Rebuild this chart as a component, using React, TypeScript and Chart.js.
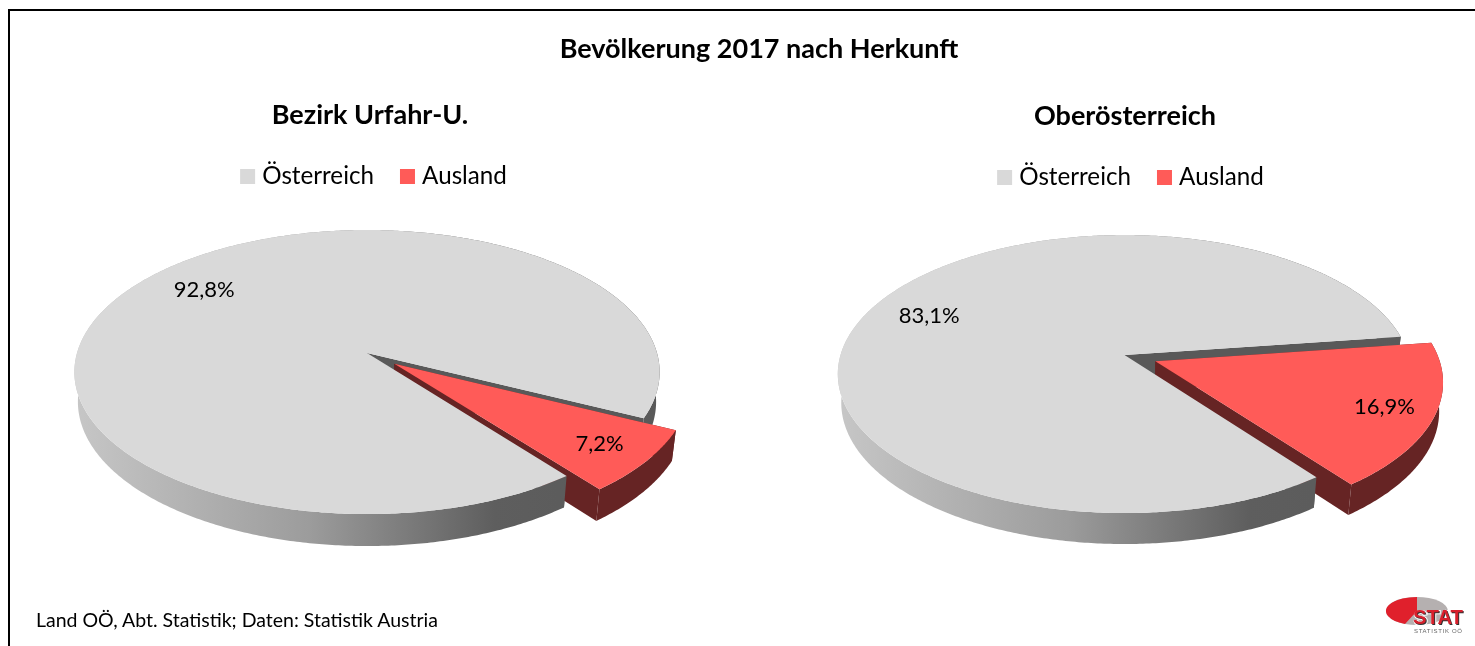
import React, { useEffect, useRef } from "react";
import { Chart, registerables } from "chart.js";

Chart.register(...registerables);

const categories = ["Österreich", "Ausland"];
const urfahrValues = [92.8, 7.2];
const ooeValues = [83.1, 16.9];
const explodeUrfahr = [0, 0.12];
const explodeOoe = [0, 0.117];
const sliceScaleUrfahr = [1, 1];
const sliceScaleOoe = [1, 0.995];
const labelRadiusUrfahr = [0.77, 0.83];
const labelRadiusOoe = [0.775, 0.825];
const sliceColors = ["#d9d9d9", "#ff5b58"];
const wallColors = ["#595959", "#662424"];
const FONT = "Lato, sans-serif";

const pie3d = {
  id: "pie3d",
  afterLayout(chart: any, _a: any, o: any) {
    if (chart.legend) {
      chart.legend.left += o.legendShift;
      chart.legend.right += o.legendShift;
    }
  },
  beforeDatasetsDraw(chart: any, _a: any, o: any) {
    const ctx = chart.ctx;
    const arcs = chart.getDatasetMeta(0).data;
    const values = chart.data.datasets[0].data;
    const top = (u: number, v: number) => {
      const w = 1 - o.k * v;
      return [o.cx + (o.R * u) / w, o.cy + (o.S * v) / w];
    };
    const low = (u: number, v: number) => {
      const w = 1 - o.k * v + o.e;
      return [o.cx + (o.R * u) / w, o.cy + (o.S * v + o.depth) / w];
    };
    const trace = (pts: number[][]) => {
      ctx.beginPath();
      pts.forEach((p, i) => (i ? ctx.lineTo(p[0], p[1]) : ctx.moveTo(p[0], p[1])));
      ctx.closePath();
    };
    const grad = ctx.createLinearGradient(o.cx - o.R, 0, o.cx + o.R, 0);
    grad.addColorStop(0, "#c6c6c6");
    grad.addColorStop(0.4, "#9c9c9c");
    grad.addColorStop(0.72, "#5e5e5e");
    grad.addColorStop(1, "#595959");

    const shapes = arcs.map((arc: any, i: number) => {
      const { startAngle, endAngle } = arc.getProps(["startAngle", "endAngle"], true);
      const mid = (startAngle + endAngle) / 2;
      const ox = o.explode[i] * Math.cos(mid);
      const oy = o.explode[i] * Math.sin(mid);
      const scale = o.sliceScale[i];
      const rim: number[][] = [];
      const steps = Math.ceil((endAngle - startAngle) / 0.01);
      for (let s = 0; s <= steps; s++) {
        const a = startAngle + ((endAngle - startAngle) * s) / steps;
        rim.push([ox + scale * Math.cos(a), oy + scale * Math.sin(a)]);
      }
      return {
        i,
        mid,
        ox,
        oy,
        first: rim[0],
        last: rim[rim.length - 1],
        topRim: rim.map((p) => top(p[0], p[1])),
        lowRim: rim.map((p) => low(p[0], p[1])),
      };
    });
    const drawWalls = (s: any) => {
      ctx.fillStyle = wallColors[s.i];
      trace([top(s.ox, s.oy), top(s.first[0], s.first[1]), low(s.first[0], s.first[1]), low(s.ox, s.oy)]);
      ctx.fill();
      trace([top(s.ox, s.oy), top(s.last[0], s.last[1]), low(s.last[0], s.last[1]), low(s.ox, s.oy)]);
      ctx.fill();
    };
    const drawRim = (s: any) => {
      ctx.fillStyle = s.i === 0 ? grad : wallColors[s.i];
      trace([...s.topRim, ...s.lowRim.slice().reverse()]);
      ctx.fill();
    };
    const drawTop = (s: any) => {
      ctx.fillStyle = sliceColors[s.i];
      trace([top(s.ox, s.oy), ...s.topRim]);
      ctx.fill();
    };

    ctx.save();
    drawWalls(shapes[0]);
    drawWalls(shapes[1]);
    drawRim(shapes[1]);
    drawRim(shapes[0]);
    drawTop(shapes[0]);
    drawTop(shapes[1]);
    ctx.restore();

    shapes.forEach((s: any) => {
      const r = o.explode[s.i] + o.labelRadius[s.i];
      const p = top(r * Math.cos(s.mid), r * Math.sin(s.mid));
      ctx.save();
      ctx.fillStyle = "#000";
      ctx.font = `22px ${FONT}`;
      ctx.textAlign = "center";
      ctx.textBaseline = "middle";
      ctx.fillText(values[s.i].toFixed(1).replace(".", ",") + "%", p[0], p[1]);
      ctx.restore();
    });
    return false;
  },
};

function PieCanvas(props: {
  title: string;
  values: number[];
  rotation: number;
  left: number;
  width: number;
  titleTop: number;
  legendGap: number;
  geometry: any;
}) {
  const ref = useRef<HTMLCanvasElement>(null);
  useEffect(() => {
    const chart = new Chart(ref.current!, {
      type: "pie",
      plugins: [pie3d],
      data: {
        labels: categories,
        datasets: [{ data: props.values, backgroundColor: sliceColors, borderWidth: 0 }],
      },
      options: {
        animation: false,
        responsive: false,
        rotation: props.rotation,
        plugins: {
          tooltip: { enabled: false },
          title: {
            display: true,
            text: props.title,
            color: "#000",
            font: { family: FONT, size: 27, weight: "bold" },
            padding: { top: props.titleTop, bottom: props.legendGap },
          },
          legend: {
            position: "top",
            labels: {
              usePointStyle: true,
              pointStyle: "rect",
              boxWidth: 5,
              boxHeight: 15,
              padding: 31,
              color: "#000",
              font: { family: FONT, size: 24.2 },
            },
          },
          pie3d: props.geometry,
        },
      } as any,
    });
    return () => chart.destroy();
  }, []);
  return (
    <canvas
      ref={ref}
      width={props.width}
      height={646}
      style={{ position: "absolute", left: props.left, top: 0, width: props.width, height: 646 }}
    />
  );
}

export default function App() {
  return (
    <div
      style={{
        position: "fixed",
        left: 0,
        top: 0,
        width: 1475,
        height: 646,
        overflow: "hidden",
        background: "#fff",
        fontFamily: FONT,
        color: "#000",
      }}
    >
      <div style={{ position: "absolute", left: 8, top: 9, width: 1467, height: 2, background: "#000" }} />
      <div style={{ position: "absolute", left: 8, top: 9, width: 2, height: 637, background: "#000" }} />
      <PieCanvas
        title="Bezirk Urfahr-U."
        values={urfahrValues}
        rotation={142}
        left={0}
        width={740}
        titleTop={99.5}
        legendGap={1.5}
        geometry={{
          cx: 367,
          cy: 353,
          R: 290,
          S: 139.5,
          k: 0.134,
          e: 0.012,
          depth: 30,
          explode: explodeUrfahr,
          sliceScale: sliceScaleUrfahr,
          labelRadius: labelRadiusUrfahr,
          legendShift: 6,
        }}
      />
      <PieCanvas
        title="Oberösterreich"
        values={ooeValues}
        rotation={143}
        left={775}
        width={700}
        titleTop={100.5}
        legendGap={1.5}
        geometry={{
          cx: 349.5,
          cy: 355,
          R: 284,
          S: 136.4,
          k: 0.137,
          e: 0.012,
          depth: 29,
          explode: explodeOoe,
          sliceScale: sliceScaleOoe,
          labelRadius: labelRadiusOoe,
          legendShift: 8,
        }}
      />
      <div
        style={{
          position: "absolute",
          left: 0,
          width: 1518,
          top: 31,
          textAlign: "center",
          fontWeight: "bold",
          fontSize: 27,
          lineHeight: "34px",
        }}
      >
        Bevölkerung 2017 nach Herkunft
      </div>
      <div style={{ position: "absolute", left: 36, top: 608, fontSize: 19.5, lineHeight: "24px" }}>
        Land OÖ, Abt. Statistik; Daten: Statistik Austria
      </div>
      <svg
        width={90}
        height={46}
        viewBox="0 0 90 46"
        style={{ position: "absolute", left: 1385, top: 592, filter: "blur(0.4px)" }}
      >
        <ellipse cx={32} cy={19} rx={31} ry={14} fill="#b5b0b0" />
        <path d="M32 19 L32 5 A31 14 0 0 0 3 24 A31 14 0 0 0 20 32 Z" fill="#e0202c" />
        <text x={29} y={33} fontFamily="Liberation Sans" fontWeight="bold" fontSize={20} fill="#333" stroke="#fff" strokeWidth={2} paintOrder="stroke" textLength={50} lengthAdjust="spacingAndGlyphs">
          STAT
        </text>
        <text x={28} y={32} fontFamily="Liberation Sans" fontWeight="bold" fontSize={20} fill="#d8202c" textLength={50} lengthAdjust="spacingAndGlyphs">
          STAT
        </text>
        <text x={29} y={41} fontFamily="Liberation Sans" fontSize={6} fill="#666" textLength={48}>
          STATISTIK OÖ
        </text>
      </svg>
    </div>
  );
}
